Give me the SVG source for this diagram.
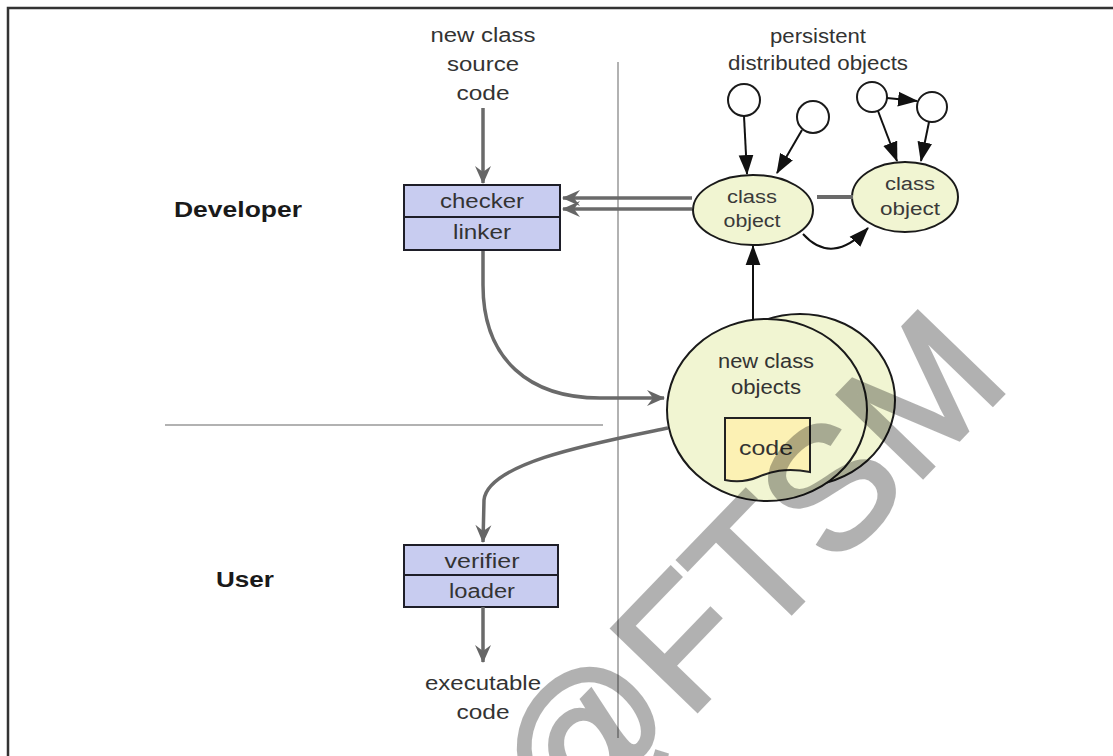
<svg xmlns="http://www.w3.org/2000/svg" width="1113" height="756" viewBox="0 0 1113 756">
  <style>
    .lbl { font-family: "Liberation Sans", Arial, sans-serif; font-size: 20px; fill: #333; text-anchor: middle; }
    .sm { font-family: "Liberation Sans", Arial, sans-serif; font-size: 18px; fill: #3a3a3a; text-anchor: middle; }
    .role { font-family: "Liberation Sans", Arial, sans-serif; font-size: 22px; font-weight: bold; fill: #1a1a1a; text-anchor: middle; }
    .box { fill: #c8ccf0; stroke: #1e1e28; stroke-width: 2; }
    .obj { fill: #f1f5d2; stroke: #1a1a1a; stroke-width: 2; }
    .ring { fill: #fff; stroke: #1a1a1a; stroke-width: 2; }
    .flow { fill: none; stroke: #6a6a6a; stroke-width: 3.5; }
    .ref { fill: none; stroke: #111; stroke-width: 2; }
    .rule { stroke: #999; stroke-width: 1.5; fill: none; }
  </style>
  <defs>
    <marker id="grayHead" markerUnits="userSpaceOnUse" markerWidth="20" markerHeight="20" viewBox="-1 -9 20 18" refX="17" refY="0" orient="auto">
      <path d="M0,-8 L18,0 L0,8 L6,0 Z" fill="#666"/>
    </marker>
    <marker id="blackHead" markerUnits="userSpaceOnUse" markerWidth="20" markerHeight="16" viewBox="0 -7 19 14" refX="18" refY="0" orient="auto">
      <path d="M0,-7 L19,0 L0,7 Z" fill="#111"/>
    </marker>
  </defs>

  <rect width="1113" height="756" fill="#fff"/>

  <!-- page frame and swimlane rules -->
  <path d="M8,760 L8,8 L1120,8" fill="none" stroke="#333" stroke-width="2.5"/>
  <line class="rule" x1="618" y1="62" x2="618" y2="738"/>
  <line class="rule" x1="165" y1="425" x2="603" y2="425"/>

  <!-- lane titles -->
  <text class="role" x="238" y="217" textLength="128" lengthAdjust="spacingAndGlyphs">Developer</text>
  <text class="role" x="245" y="587" textLength="58" lengthAdjust="spacingAndGlyphs">User</text>

  <!-- source label -->
  <g id="source-label">
    <text class="lbl" x="483" y="42" textLength="105" lengthAdjust="spacingAndGlyphs">new class</text>
    <text class="lbl" x="483" y="71" textLength="72" lengthAdjust="spacingAndGlyphs">source</text>
    <text class="lbl" x="483" y="100" textLength="53" lengthAdjust="spacingAndGlyphs">code</text>
  </g>

  <!-- checker / linker -->
  <g id="checker-linker">
    <rect class="box" x="404" y="185" width="156" height="32"/>
    <rect class="box" x="404" y="217" width="156" height="33"/>
    <text class="lbl" x="482" y="208" textLength="84" lengthAdjust="spacingAndGlyphs">checker</text>
    <text class="lbl" x="482" y="239" textLength="58" lengthAdjust="spacingAndGlyphs">linker</text>
  </g>

  <!-- verifier / loader -->
  <g id="verifier-loader">
    <rect class="box" x="404" y="545" width="154" height="30"/>
    <rect class="box" x="404" y="575" width="154" height="32"/>
    <text class="lbl" x="482" y="568" textLength="75" lengthAdjust="spacingAndGlyphs">verifier</text>
    <text class="lbl" x="482" y="598" textLength="66" lengthAdjust="spacingAndGlyphs">loader</text>
  </g>

  <!-- output label -->
  <g id="executable-label">
    <text class="lbl" x="483" y="690" textLength="116" lengthAdjust="spacingAndGlyphs">executable</text>
    <text class="lbl" x="483" y="719" textLength="53" lengthAdjust="spacingAndGlyphs">code</text>
  </g>

  <!-- persistent objects -->
  <g id="persistent-label">
    <text class="lbl" x="818" y="43" textLength="96" lengthAdjust="spacingAndGlyphs">persistent</text>
    <text class="lbl" x="818" y="70" textLength="180" lengthAdjust="spacingAndGlyphs">distributed objects</text>
  </g>
  <g id="p1"><circle class="ring" cx="744" cy="100" r="16"/></g>
  <g id="p2"><circle class="ring" cx="813" cy="117" r="16"/></g>
  <g id="p3"><circle class="ring" cx="872" cy="97" r="15"/></g>
  <g id="p4"><circle class="ring" cx="932" cy="107" r="15"/></g>

  <!-- class objects -->
  <g id="class-object-1">
    <ellipse class="obj" cx="753" cy="210" rx="60" ry="35"/>
    <text class="sm" x="752" y="203" textLength="50" lengthAdjust="spacingAndGlyphs">class</text>
    <text class="sm" x="752" y="227" textLength="57" lengthAdjust="spacingAndGlyphs">object</text>
  </g>
  <g id="class-object-2">
    <ellipse class="obj" cx="905" cy="197" rx="53" ry="35"/>
    <text class="sm" x="910" y="190" textLength="50" lengthAdjust="spacingAndGlyphs">class</text>
    <text class="sm" x="910" y="215" textLength="60" lengthAdjust="spacingAndGlyphs">object</text>
  </g>

  <!-- new class objects -->
  <g id="new-class-objects">
    <ellipse class="obj" cx="800" cy="400" rx="95" ry="86"/>
    <ellipse class="obj" cx="767" cy="410" rx="100" ry="91"/>
    <text class="lbl" x="766" y="368" textLength="96" lengthAdjust="spacingAndGlyphs">new class</text>
    <text class="lbl" x="766" y="394" textLength="70" lengthAdjust="spacingAndGlyphs">objects</text>
    <path d="M725,418 L810,418 L810,472 C785,467 770,472 758,477 C746,482 735,482 725,480 Z" fill="#fcf1b4" stroke="#222" stroke-width="2"/>
    <text class="lbl" x="766" y="455" textLength="54" lengthAdjust="spacingAndGlyphs">code</text>
  </g>

  <!-- connectors -->
  <g id="connectors">
    <line class="flow" x1="483" y1="108" x2="483" y2="183" marker-end="url(#grayHead)"/>
    <line class="flow" x1="692" y1="198" x2="563" y2="198" marker-end="url(#grayHead)"/>
    <line class="flow" x1="692" y1="209" x2="563" y2="209" marker-end="url(#grayHead)"/>
    <line x1="817" y1="197" x2="853" y2="197" stroke="#6a6a6a" stroke-width="4"/>
    <path class="flow" d="M483,251 L483,285 C483,360 530,398 600,398 L664,398" marker-end="url(#grayHead)"/>
    <path class="flow" d="M668,428 C600,442 488,462 484,500 L483,542" marker-end="url(#grayHead)"/>
    <line class="flow" x1="483" y1="607" x2="483" y2="662" marker-end="url(#grayHead)"/>

    <line class="ref" x1="744" y1="116" x2="747" y2="174" marker-end="url(#blackHead)"/>
    <line class="ref" x1="802" y1="130" x2="777" y2="173" marker-end="url(#blackHead)"/>
    <line class="ref" x1="887" y1="98" x2="917" y2="101" marker-end="url(#blackHead)"/>
    <line class="ref" x1="878" y1="111" x2="897" y2="161" marker-end="url(#blackHead)"/>
    <line class="ref" x1="929" y1="122" x2="921" y2="161" marker-end="url(#blackHead)"/>
    <path class="ref" d="M803,234 Q832,266 868,228" marker-end="url(#blackHead)"/>
    <line class="ref" x1="753" y1="320" x2="753" y2="246" marker-end="url(#blackHead)"/>
  </g>

  <!-- watermark -->
  <g opacity="0.3">
    <text transform="translate(745,572) rotate(-46)" x="0" y="62" font-family="Liberation Sans, Arial, sans-serif" font-size="172" text-anchor="middle" fill="#000" stroke="#000" stroke-width="4" stroke-linejoin="miter">@FTSM</text>
  </g>
</svg>
